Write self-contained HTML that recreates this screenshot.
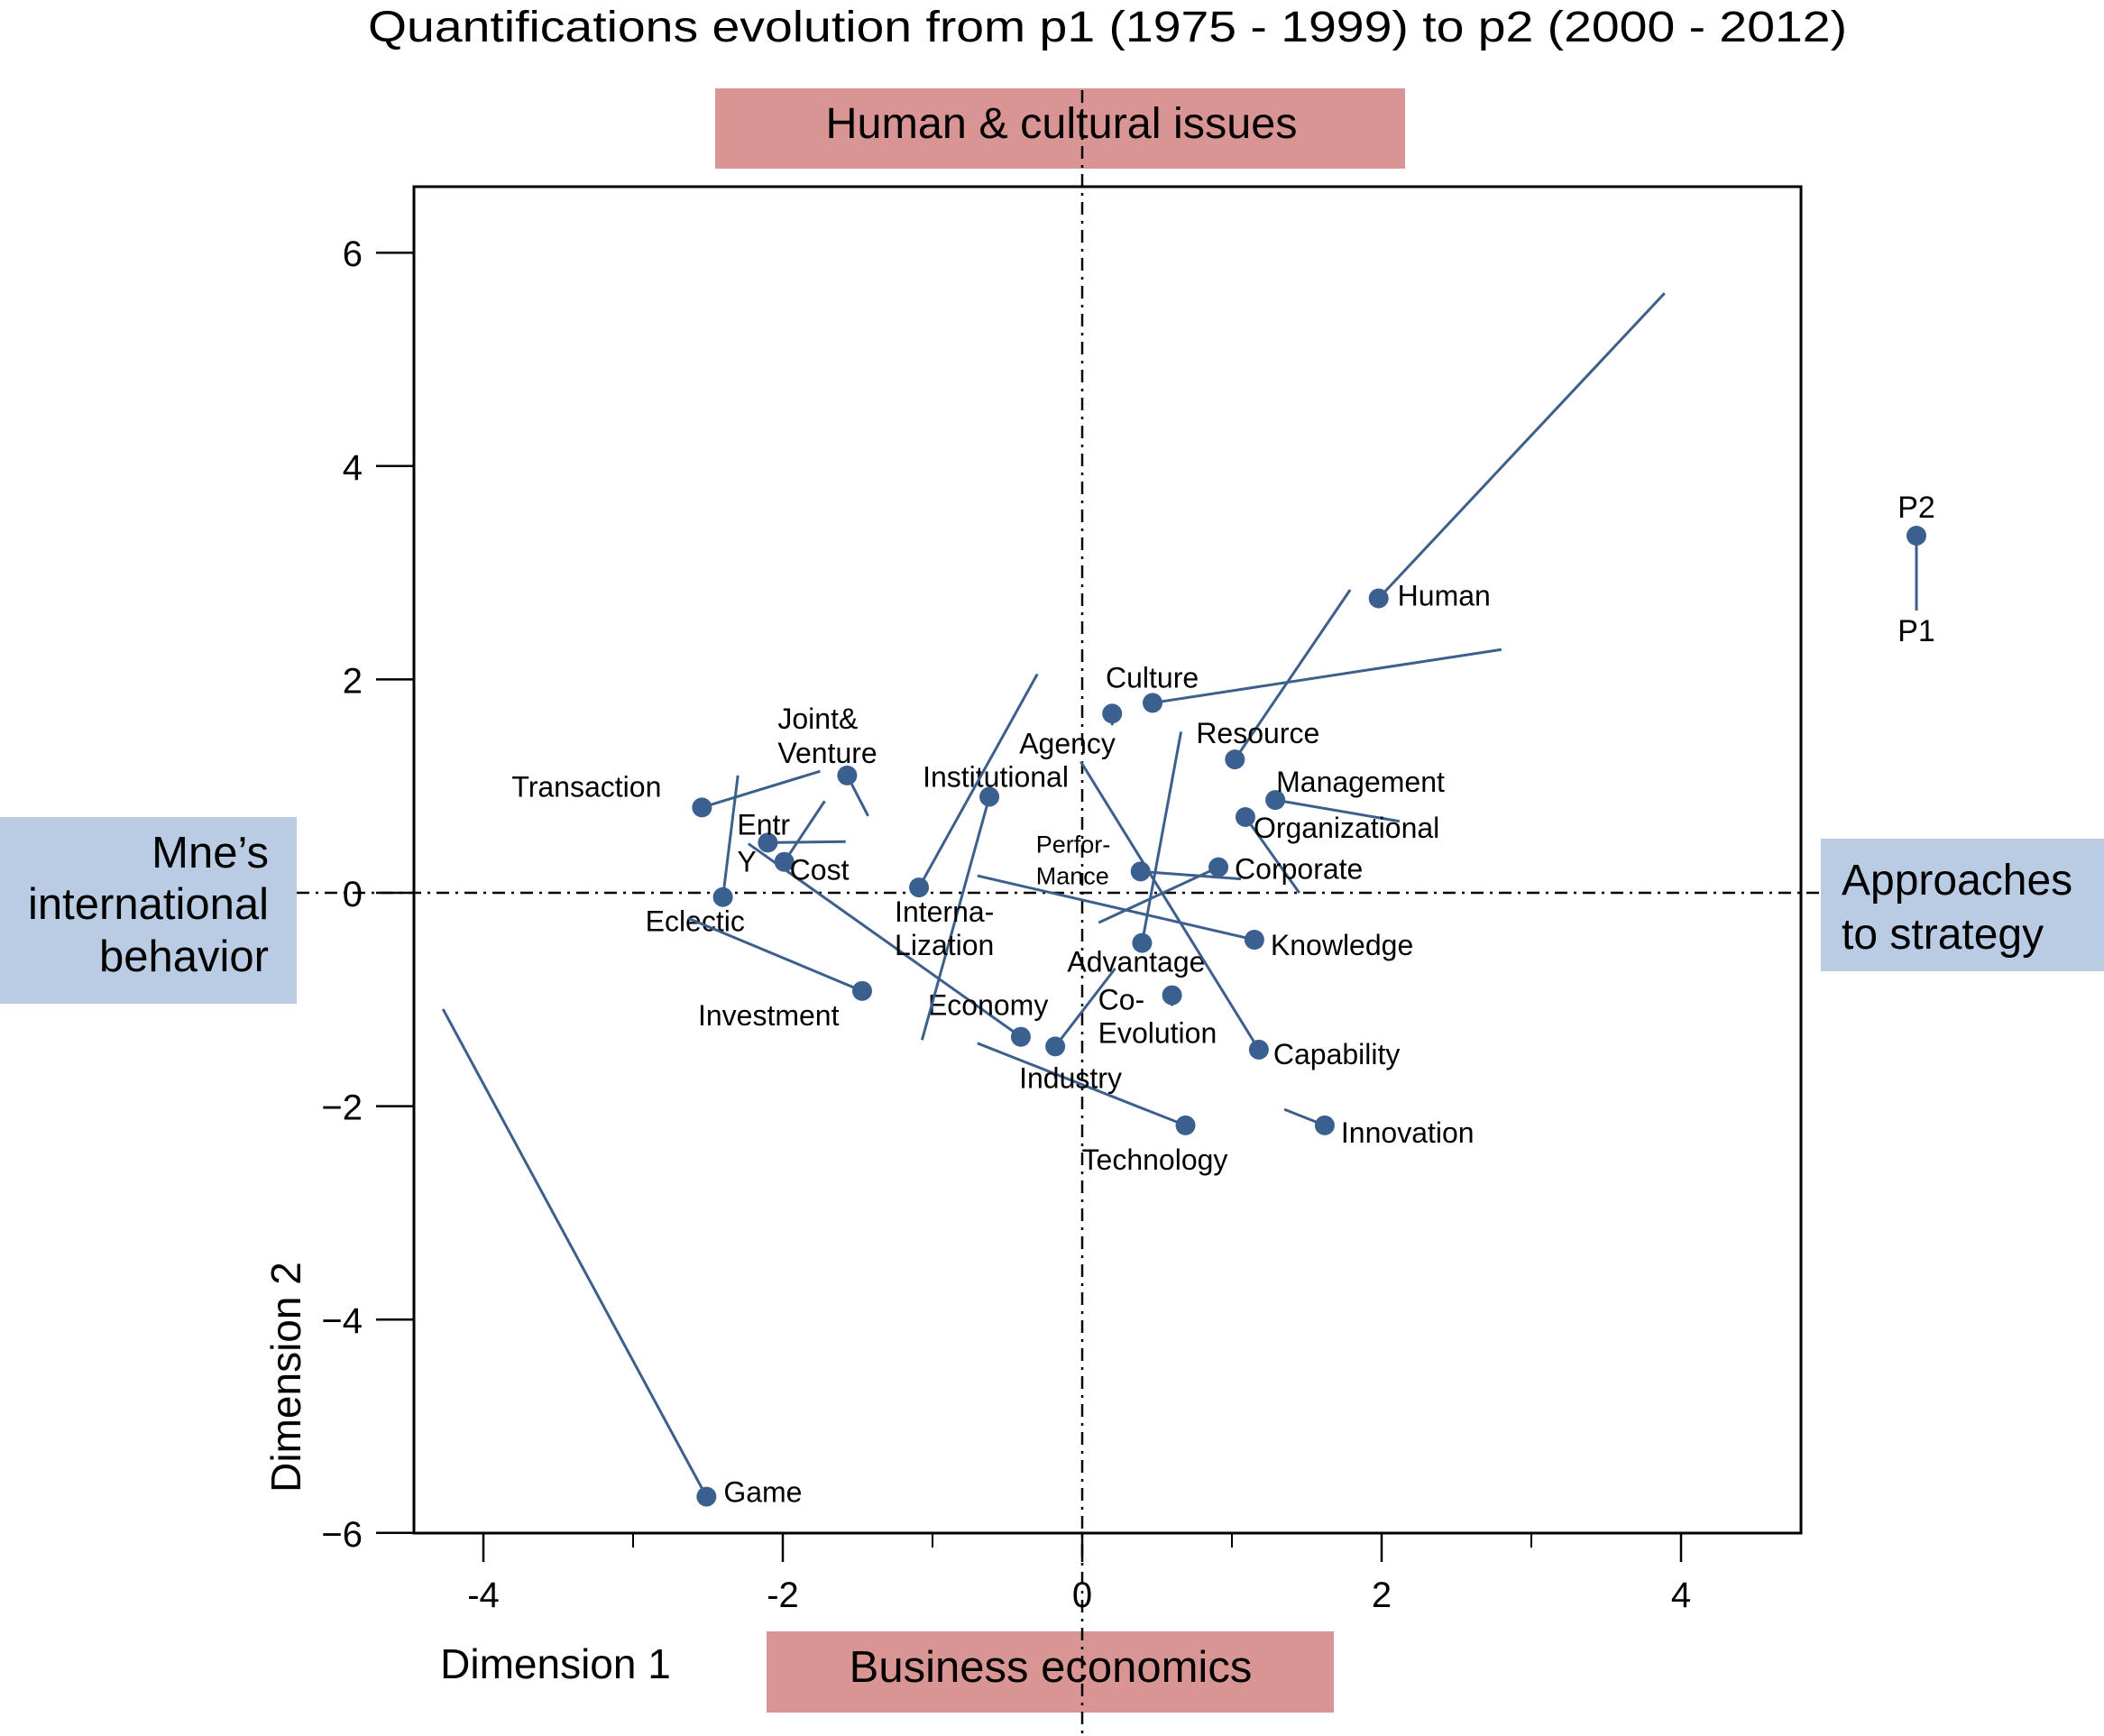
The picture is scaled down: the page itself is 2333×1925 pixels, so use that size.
<!DOCTYPE html>
<html><head><meta charset="utf-8"><style>
html,body{margin:0;padding:0;background:#fff;}
svg{display:block;font-family:"Liberation Sans",Arial,sans-serif;}
</style></head><body>
<svg id="chart" width="2333" height="1925" viewBox="0 0 2333 1925" xmlns="http://www.w3.org/2000/svg">
  <text x="1228" y="46" font-size="48" text-anchor="middle" textLength="1640" lengthAdjust="spacingAndGlyphs">Quantifications evolution from p1 (1975 - 1999) to p2 (2000 - 2012)</text>
  <rect x="793" y="98" width="765" height="89" fill="#d99593"/>
  <rect x="850" y="1809" width="629" height="90" fill="#d99593"/>
  <rect x="0" y="906" width="329" height="207" fill="#b9cce4"/>
  <rect x="2019" y="930" width="314" height="147" fill="#b9cce4"/>
  <g id="axes"></g>
  <g id="marks"></g>
  <text x="1177" y="153" font-size="48.5" text-anchor="middle">Human &amp; cultural issues</text>
  <text x="1165" y="1865" font-size="49" text-anchor="middle">Business economics</text>
  <g font-size="49" text-anchor="end">
    <text x="298" y="962">Mne’s</text>
    <text x="298" y="1019">international</text>
    <text x="298" y="1077">behavior</text>
  </g>
  <g font-size="48">
    <text x="2042" y="992">Approaches</text>
    <text x="2042" y="1052">to strategy</text>
  </g>
  <text x="616" y="1861" font-size="46" text-anchor="middle">Dimension 1</text>
  <text x="0" y="0" font-size="46" text-anchor="middle" transform="translate(333,1527) rotate(-90)">Dimension 2</text>
  <g>
    <line x1="2125" y1="594" x2="2125" y2="677" stroke="#3d5f8c" stroke-width="3"/>
    <circle cx="2125" cy="594" r="11" fill="#3a6090"/>
    <text x="2125" y="574" font-size="34" text-anchor="middle">P2</text>
    <text x="2125" y="711" font-size="34" text-anchor="middle">P1</text>
  </g>
</svg>
<script>
const names = ["Human","Resource","Culture","Agency","Management","Organizational","Corporate","Performance","Advantage","Knowledge","Co-Evolution","Capability","Innovation","Technology","Industry","Economy","Institutional","Internalization","JointVenture","Transaction","Entry","Cost","Eclectic","Investment","Game"];
const p2x = [1.98,1.02,0.47,0.20,1.29,1.09,0.91,0.39,0.40,1.15,0.60,1.18,1.62,0.69,-0.18,-0.41,-0.62,-1.09,-1.57,-2.54,-2.10,-1.99,-2.40,-1.47,-2.51];
const p2y = [2.76,1.25,1.78,1.68,0.87,0.71,0.24,0.20,-0.47,-0.44,-0.96,-1.47,-2.18,-2.18,-1.44,-1.35,0.90,0.05,1.10,0.80,0.47,0.29,-0.04,-0.92,-5.66];
const p1x = [3.89,1.79,2.80,0.20,2.12,1.45,0.11,1.06,0.66,-0.70,0.60,-0.01,1.35,-0.70,0.22,-2.23,-1.07,-0.30,-1.43,-1.75,-1.58,-1.72,-2.30,-2.63,-4.27];
const p1y = [5.62,2.84,2.28,1.57,0.67,0.00,-0.28,0.13,1.51,0.16,-1.06,1.23,-2.03,-1.41,-0.71,0.46,-1.38,2.05,0.72,1.14,0.48,0.86,1.10,-0.24,-1.09];
const xTicks = [-4,-2,0,2,4];
const xMinor = [-3,-1,1,3];
const yTicks = [6,4,2,0,-2,-4,-6];
const xTickLabels = ["-4","-2","0","2","4"];
const yTickLabels = ["6","4","2","0","−2","−4","−6"];
const labelLines = [["Human"],["Resource"],["Culture"],["Agency"],["Management"],["Organizational"],["Corporate"],["Perfor-","Mance"],["Advantage"],["Knowledge"],["Co-","Evolution"],["Capability"],["Innovation"],["Technology"],["Industry"],["Economy"],["Institutional"],["Interna-","Lization"],["Joint&","Venture"],["Transaction"],["Entr","Y"],["Cost"],["Eclectic"],["Investment"],["Game"]];
const labelOff = [[21,-2],[-43,-28],[-52,-27],[-103,34],[1,-19],[9,13],[18,3],[-116,-31],[-83,22],[18,7],[-82,6],[16,6],[18,9],[-115,39],[-40,36],[-103,-34],[-74,-21],[-27,28],[-77,-62],[-211,-22],[-34,-19],[6,10],[-86,28],[-182,28],[19,-4]];
const labelLineGap = [0,0,0,0,0,0,0,35,0,0,37,0,0,0,0,0,0,37,38,0,41,0,0,0,0];

const X0=1200, XU=166, Y0=990, YU=118.3;
const FL=459, FR=1997, FT=207, FB=1700;
function X(v){return X0+XU*v;}
function Y(v){return Y0-YU*v;}
const NS="http://www.w3.org/2000/svg";
function mk(tag,attrs,parent){const e=document.createElementNS(NS,tag);for(const k in attrs)e.setAttribute(k,attrs[k]);parent.appendChild(e);return e;}
const axes=document.getElementById('axes');
const marks=document.getElementById('marks');

const frame=mk('rect',{x:FL,y:FT,width:FR-FL,height:FB-FT,fill:'none',stroke:'#000','stroke-width':3},axes);


const vref=mk('line',{x1:X(0),y1:100,x2:X(0),y2:1925,stroke:'#000','stroke-width':2.5,'stroke-dasharray':'14,7,3,7'},axes);


const href=mk('line',{x1:329,y1:Y(0),x2:2019,y2:Y(0),stroke:'#000','stroke-width':2.5,'stroke-dasharray':'14,7,3,7'},axes);



xTicks.forEach((v,i)=>{
  const t=mk('line',{x1:X(v),y1:FB,x2:X(v),y2:FB+32,stroke:'#000','stroke-width':2.5},axes);
  
  
  const l=mk('text',{x:X(v),y:1782,'font-size':40,'text-anchor':'middle'},axes);
  l.textContent=xTickLabels[i];
  
  
});
xMinor.forEach(v=>{
  const t=mk('line',{x1:X(v),y1:FB,x2:X(v),y2:FB+16,stroke:'#000','stroke-width':2},axes);
  
  
});
yTicks.forEach((v,i)=>{
  const t=mk('line',{x1:417,y1:Y(v),x2:FL,y2:Y(v),stroke:'#000','stroke-width':2.5},axes);
  
  
  const l=mk('text',{x:402,y:Y(v)+15,'font-size':40,'text-anchor':'end'},axes);
  l.textContent=yTickLabels[i];
  
  
});

names.forEach((n,i)=>{
  const g=mk('g',{},marks);
  
  
  const ln=mk('line',{x1:X(p1x[i]),y1:Y(p1y[i]),x2:X(p2x[i]),y2:Y(p2y[i]),stroke:'#3d5f8c','stroke-width':3},g);
  
  
  const c=mk('circle',{cx:X(p2x[i]),cy:Y(p2y[i]),r:11,fill:'#3a6090'},g);
  
  
  const small = (n==="Performance");
  labelLines[i].forEach((s,j)=>{
    const t=mk('text',{x:X(p2x[i])+labelOff[i][0],y:Y(p2y[i])+labelOff[i][1]+j*labelLineGap[i]+10,'font-size':small?27:32},g);
    t.textContent=s;
    
    
  });
});
</script>
</body></html>
